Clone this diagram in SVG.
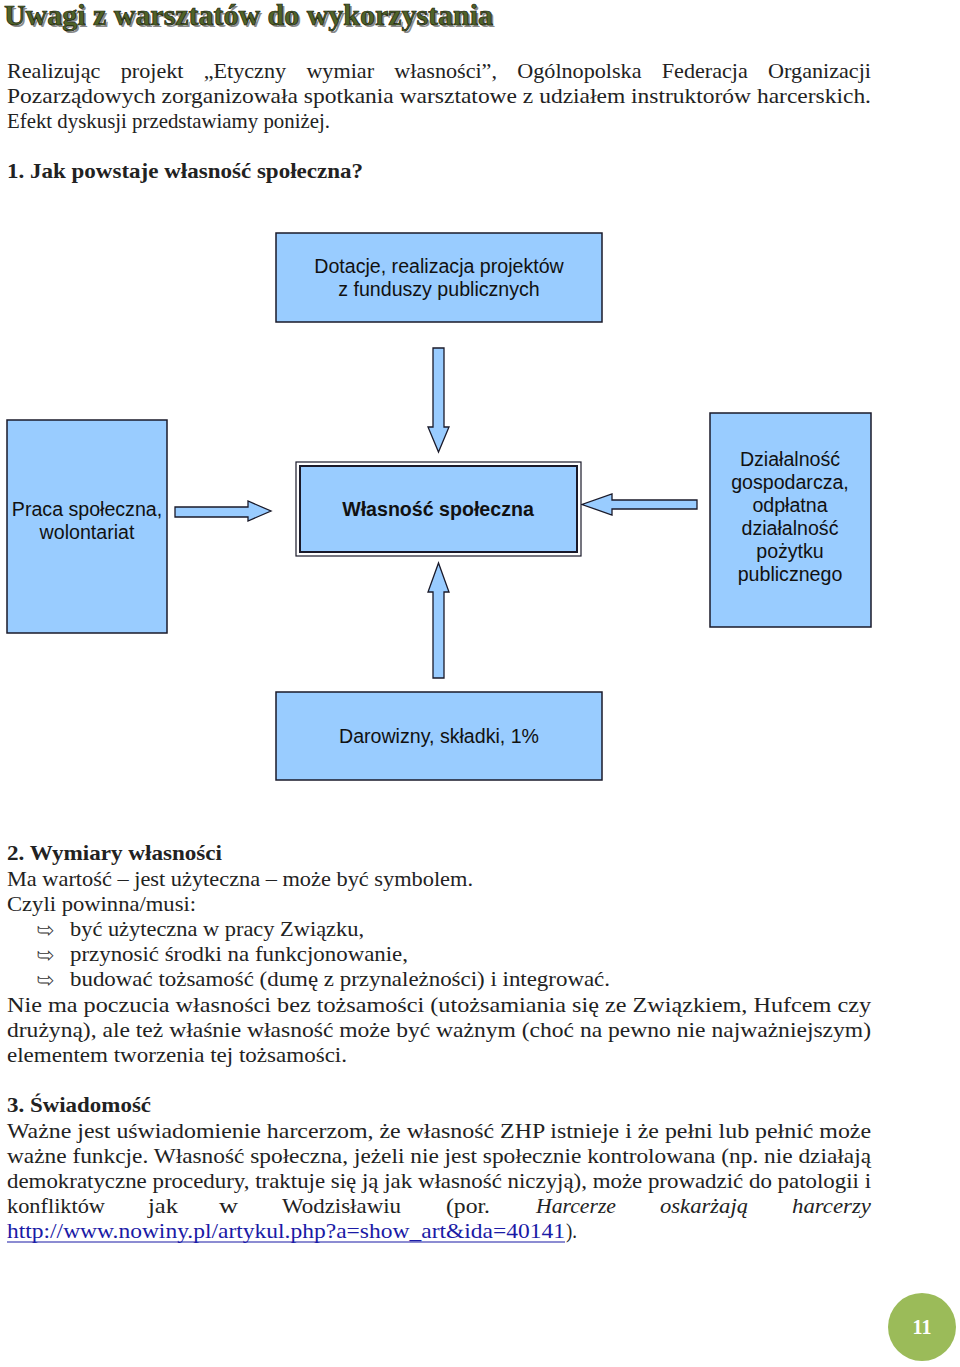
<svg xmlns="http://www.w3.org/2000/svg" width="960" height="1367" viewBox="0 0 960 1367">
<style>
.body{font-family:"Liberation Serif","DejaVu Serif",serif;font-size:21px;fill:#222}
.cond{font-family:"Liberation Serif","DejaVu Serif",serif;font-size:21px;fill:#222}
.b{font-weight:bold}
.box{fill:#99ccff;stroke:#1a1a2a;stroke-width:1.5}
.bt{font-family:"Liberation Sans",Arial,sans-serif;font-size:19.6px;fill:#111;text-anchor:middle}
.arr{fill:#99ccff;stroke:#1a1a2a;stroke-width:1.3;stroke-linejoin:miter}
.bul{font-family:"DejaVu Sans",sans-serif;font-size:20px;fill:none;stroke:#333;stroke-width:0.9}
</style>
<rect width="960" height="1367" fill="#ffffff"/>
<g id="title">
<text x="6" y="27" font-family="Liberation Serif,serif" font-weight="bold" font-size="29" fill="#8a8a8a" textLength="489" lengthAdjust="spacingAndGlyphs">Uwagi z warsztatów do wykorzystania</text>
<text x="4" y="25" font-family="Liberation Serif,serif" font-weight="bold" font-size="29" fill="#4f6228" stroke="#1c2410" stroke-width="0.7" textLength="489" lengthAdjust="spacingAndGlyphs">Uwagi z warsztatów do wykorzystania</text>
</g>
<g id="intro">
<text class="body" x="7" y="78" word-spacing="14" textLength="864" lengthAdjust="spacingAndGlyphs">Realizując projekt „Etyczny wymiar własności”, Ogólnopolska Federacja Organizacji</text>
<text class="body" x="7" y="103" textLength="864" lengthAdjust="spacingAndGlyphs">Pozarządowych zorganizowała spotkania warsztatowe z udziałem instruktorów harcerskich.</text>
<text class="body" x="7" y="128" textLength="323" lengthAdjust="spacingAndGlyphs">Efekt dyskusji przedstawiamy poniżej.</text>
<text class="body b" x="7" y="178" textLength="356" lengthAdjust="spacingAndGlyphs">1. Jak powstaje własność społeczna?</text>
</g>
<g id="connectors">
<polygon class="arr" points="433,348 444,348 444,427 449,427 438.5,452 428,427 433,427"/>
<polygon class="arr" points="175,507 248,507 248,501 271,511 248,521 248,517 175,517"/>
<polygon class="arr" points="697,500 612,500 612,494 582,504.5 612,515 612,509 697,509"/>
<polygon class="arr" points="433,678 444,678 444,592 449,592 438.5,563 428,592 433,592"/>
</g>
<g id="node-top">
<rect class="box" x="276" y="233" width="326" height="89"/>
<text class="bt" x="439" y="273">Dotacje, realizacja projektów</text>
<text class="bt" x="439" y="296">z funduszy publicznych</text>
</g>
<g id="node-left">
<rect class="box" x="7" y="420" width="160" height="213"/>
<text class="bt" x="87" y="516">Praca społeczna,</text>
<text class="bt" x="87" y="539">wolontariat</text>
</g>
<g id="node-center">
<rect x="296" y="462" width="285" height="94" fill="#ffffff" stroke="#1a1a2a" stroke-width="1.2"/>
<rect x="300" y="466" width="277" height="86" fill="#99ccff" stroke="#1a1a2a" stroke-width="2"/>
<text class="bt" x="438" y="516" font-weight="bold">Własność społeczna</text>
</g>
<g id="node-right">
<rect class="box" x="710" y="413" width="161" height="214"/>
<text class="bt" x="790" y="466">Działalność</text>
<text class="bt" x="790" y="489">gospodarcza,</text>
<text class="bt" x="790" y="512">odpłatna</text>
<text class="bt" x="790" y="535">działalność</text>
<text class="bt" x="790" y="558">pożytku</text>
<text class="bt" x="790" y="581">publicznego</text>
</g>
<g id="node-bottom">
<rect class="box" x="276" y="692" width="326" height="88"/>
<text class="bt" x="439" y="743">Darowizny, składki, 1%</text>
</g>
<g id="section2">
<text class="body b" x="7" y="860" textLength="215" lengthAdjust="spacingAndGlyphs">2. Wymiary własności</text>
<text class="body" x="7" y="886" textLength="466" lengthAdjust="spacingAndGlyphs">Ma wartość – jest użyteczna – może być symbolem.</text>
<text class="body" x="7" y="911" textLength="189" lengthAdjust="spacingAndGlyphs">Czyli powinna/musi:</text>
<text class="bul" x="37" y="937">➥</text>
<text class="body" x="70" y="936" textLength="294" lengthAdjust="spacingAndGlyphs">być użyteczna w pracy Związku,</text>
<text class="bul" x="37" y="962">➥</text>
<text class="body" x="70" y="961" textLength="338" lengthAdjust="spacingAndGlyphs">przynosić środki na funkcjonowanie,</text>
<text class="bul" x="37" y="987">➥</text>
<text class="body" x="70" y="986" textLength="540" lengthAdjust="spacingAndGlyphs">budować tożsamość (dumę z przynależności) i integrować.</text>
<text class="cond" x="7" y="1012" textLength="864" lengthAdjust="spacingAndGlyphs">Nie ma poczucia własności bez tożsamości (utożsamiania się ze Związkiem, Hufcem czy</text>
<text class="cond" x="7" y="1037" textLength="864" lengthAdjust="spacingAndGlyphs">drużyną), ale też właśnie własność może być ważnym (choć na pewno nie najważniejszym)</text>
<text class="cond" x="7" y="1062" textLength="340" lengthAdjust="spacingAndGlyphs">elementem tworzenia tej tożsamości.</text>
</g>
<g id="section3">
<text class="body b" x="7" y="1112" textLength="144" lengthAdjust="spacingAndGlyphs">3. Świadomość</text>
<text class="cond" x="7" y="1138" textLength="864" lengthAdjust="spacingAndGlyphs">Ważne jest uświadomienie harcerzom, że własność ZHP istnieje i że pełni lub pełnić może</text>
<text class="cond" x="7" y="1163" textLength="864" lengthAdjust="spacingAndGlyphs">ważne funkcje. Własność społeczna, jeżeli nie jest społecznie kontrolowana (np. nie działają</text>
<text class="cond" x="7" y="1188" textLength="864" lengthAdjust="spacingAndGlyphs">demokratyczne procedury, traktuje się ją jak własność niczyją), może prowadzić do patologii i</text>
<text class="cond" x="7" y="1213" textLength="98" lengthAdjust="spacingAndGlyphs">konfliktów</text>
<text class="cond" x="148" y="1213" textLength="30" lengthAdjust="spacingAndGlyphs">jak</text>
<text class="cond" x="219" y="1213" textLength="19" lengthAdjust="spacingAndGlyphs">w</text>
<text class="cond" x="282" y="1213" textLength="119" lengthAdjust="spacingAndGlyphs">Wodzisławiu</text>
<text class="cond" x="446" y="1213" textLength="44" lengthAdjust="spacingAndGlyphs">(por.</text>
<text class="cond" x="536" y="1213" font-style="italic" textLength="80" lengthAdjust="spacingAndGlyphs">Harcerze</text>
<text class="cond" x="660" y="1213" font-style="italic" textLength="88" lengthAdjust="spacingAndGlyphs">oskarżają</text>
<text class="cond" x="792" y="1213" font-style="italic" textLength="79" lengthAdjust="spacingAndGlyphs">harcerzy</text>
<text class="cond" x="7" y="1238" style="fill:#1a1aa6" textLength="558" lengthAdjust="spacingAndGlyphs">http://www.nowiny.pl/artykul.php?a=show_art&amp;ida=40141</text>
<line x1="7" y1="1242" x2="565" y2="1242" stroke="#1a1aa6" stroke-width="1.2"/>
<text class="cond" x="566" y="1238" textLength="11" lengthAdjust="spacingAndGlyphs">).</text>
</g>
<g id="page-number">
<circle cx="922" cy="1327" r="34" fill="#9bbb59"/>
<text x="922" y="1334" text-anchor="middle" font-family="Liberation Serif,serif" font-weight="bold" font-size="20" fill="#ffffff">11</text>
</g>
</svg>
